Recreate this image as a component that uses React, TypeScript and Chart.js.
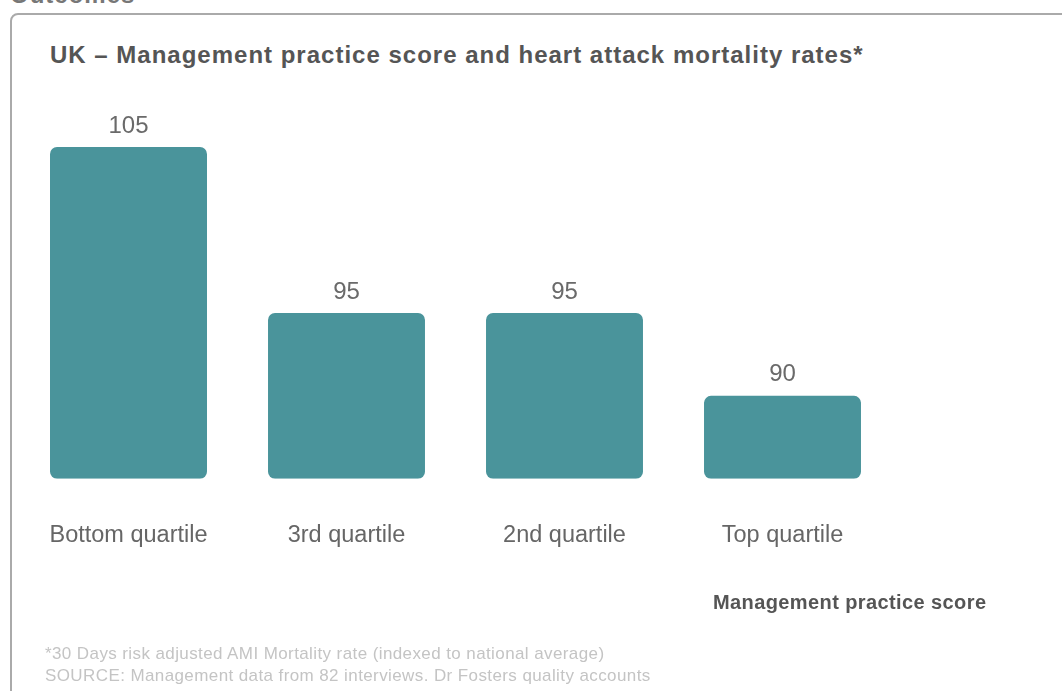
import React, { useEffect, useRef } from "react";
import { Chart, registerables } from "chart.js";

Chart.register(...registerables);

const categories = ["Bottom quartile", "3rd quartile", "2nd quartile", "Top quartile"];
const mortalityIndex = [105, 95, 95, 90];
const axisMin = 85;
const axisMax = 110;

const titleText = "UK – Management practice score and heart attack mortality rates*";
const xAxisTitle = "Management practice score";
const footnotes = [
  "*30 Days risk adjusted AMI Mortality rate (indexed to national average)",
  "SOURCE: Management data from 82 interviews. Dr Fosters quality accounts",
];

const FONT = "'Liberation Sans', Arial, Helvetica, sans-serif";

const valueLabels = {
  id: "valueLabels",
  afterDatasetsDraw(chart: any) {
    const ctx = chart.ctx;
    const meta = chart.getDatasetMeta(0);
    ctx.save();
    ctx.font = `24px ${FONT}`;
    ctx.fillStyle = "#6a6a6a";
    ctx.textAlign = "center";
    ctx.textBaseline = "middle";
    meta.data.forEach((bar: any, i: number) => {
      ctx.fillText(String(chart.data.datasets[0].data[i]), bar.x, bar.y - 21);
    });
    ctx.restore();
  },
};

export default function App() {
  const ref = useRef<HTMLCanvasElement>(null);

  useEffect(() => {
    if (!ref.current) return;
    const chart = new Chart(ref.current, {
      type: "bar",
      data: {
        labels: categories,
        datasets: [
          {
            data: mortalityIndex,
            base: axisMin,
            backgroundColor: "#4a949b",
            borderRadius: 7,
            borderSkipped: false,
            categoryPercentage: 0.72,
            barPercentage: 1,
          },
        ],
      },
      options: {
        animation: false,
        responsive: false,
        maintainAspectRatio: false,
        layout: { padding: { left: 19.5, right: 170.5, top: 64, bottom: 98 } },
        plugins: {
          legend: { display: false },
          tooltip: { enabled: false },
          title: { display: false },
        },
        scales: {
          y: {
            display: false,
            min: axisMin,
            max: axisMax,
          },
          x: {
            border: { display: false },
            grid: { display: false, drawTicks: false },
            ticks: {
              padding: 43,
              color: "#666666",
              font: { family: FONT, size: 23.5 },
            },
          },
        },
      },
      plugins: [valueLabels],
    });
    return () => chart.destroy();
  }, []);

  return (
    <div
      style={{
        position: "fixed",
        left: 0,
        top: 0,
        width: 1062,
        height: 691,
        overflow: "hidden",
        background: "#ffffff",
        fontFamily: FONT,
      }}
    >
      <div
        style={{
          position: "absolute",
          left: 10,
          top: -17,
          fontSize: 24,
          lineHeight: "24px",
          fontWeight: "bold",
          letterSpacing: 1,
          color: "#777",
        }}
      >
        Outcomes
      </div>
      <div
        style={{
          position: "absolute",
          left: 10,
          top: 13,
          width: 1150,
          height: 800,
          border: "2px solid #aaaaaa",
          borderRadius: 8,
          boxSizing: "border-box",
        }}
      />
      <div
        style={{
          position: "absolute",
          left: 50,
          top: 41,
          fontSize: 24,
          lineHeight: "28px",
          fontWeight: "bold",
          letterSpacing: 1,
          color: "#555555",
          whiteSpace: "nowrap",
        }}
      >
        {titleText}
      </div>
      <canvas
        ref={ref}
        width={1062}
        height={691}
        style={{ position: "absolute", left: 0, top: 0, width: 1062, height: 691 }}
      />
      <div
        style={{
          position: "absolute",
          left: 713,
          top: 589,
          fontSize: 20,
          lineHeight: "26px",
          fontWeight: "bold",
          letterSpacing: 0.4,
          color: "#555555",
          whiteSpace: "nowrap",
        }}
      >
        {xAxisTitle}
      </div>
      <div
        style={{
          position: "absolute",
          left: 45,
          top: 643,
          fontSize: 17,
          lineHeight: "22px",
          letterSpacing: 0.4,
          color: "#c4c4c4",
          whiteSpace: "nowrap",
        }}
      >
        {footnotes.map((f) => (
          <div key={f}>{f}</div>
        ))}
      </div>
    </div>
  );
}
